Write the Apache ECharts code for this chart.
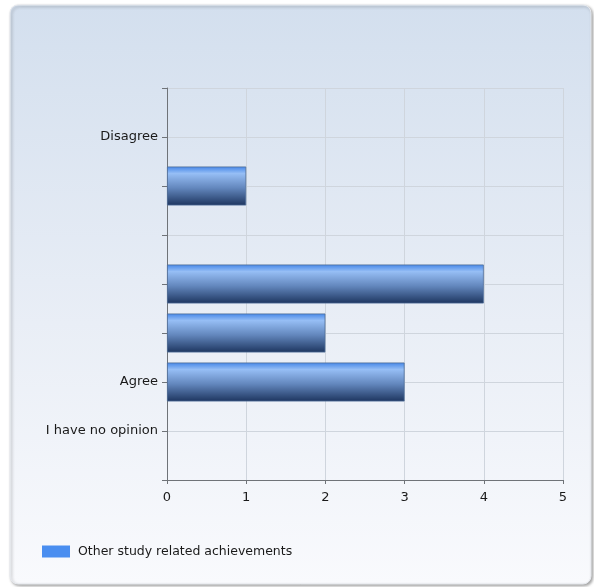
<!DOCTYPE html>
<html>
<head>
<meta charset="utf-8">
<script src="https://cdn.jsdelivr.net/npm/echarts@6/dist/echarts.min.js"></script>
<style>
html,body{margin:0;padding:0;background:#ffffff;}
#main{width:594px;height:587px;}
</style>
</head>
<body>
<div id="main"></div>
<script>
var categories = ['', 'Disagree', '', '', '', '', 'Agree', 'I have no opinion', ''];
var seriesName = 'Other study related achievements';
var values = [null, 0, 1, 0, 4, 2, 3, 0, null];
var xTicks = [0, 1, 2, 3, 4, 5];

var chart = echarts.init(document.getElementById('main'), null, {renderer: 'canvas'});
var font = 'DejaVu Sans';
var option = {
  backgroundColor: '#ffffff',
  animation: false,
  graphic: [{
    type: 'rect',
    z: -10,
    shape: {x: 10, y: 5, width: 581, height: 579, r: 8},
    style: {
      fill: new echarts.graphic.LinearGradient(0, 0, 0, 1, [
        {offset: 0, color: '#d3dfee'},
        {offset: 0.55, color: '#e9eef6'},
        {offset: 1, color: '#f9fafd'}
      ]),
      stroke: '#e6e9ee',
      lineWidth: 1,
      shadowBlur: 3,
      shadowOffsetX: 1.5,
      shadowOffsetY: 1.5,
      shadowColor: 'rgba(0,0,0,0.35)'
    }
  }],
  grid: {left: 167, top: 88, width: 396, height: 392, containLabel: false},
  legend: {
    left: 37, top: 540,
    icon: 'rect', itemWidth: 28, itemHeight: 12, itemGap: 10,
    textStyle: {fontFamily: font, fontSize: 12.5, color: '#1a1a1a', padding: [0, 0, 0, 3]},
    data: [{name: seriesName, itemStyle: {color: '#4a8ef0', borderWidth: 0}}]
  },
  xAxis: {
    type: 'value', min: xTicks[0], max: xTicks[xTicks.length - 1], interval: 1,
    axisLine: {show: true, lineStyle: {color: '#6f7378', width: 1}},
    axisTick: {show: true, length: 4, lineStyle: {color: '#6f7378'}},
    axisLabel: {fontFamily: font, fontSize: 13, color: '#1a1a1a', margin: 11},
    splitLine: {show: true, lineStyle: {color: '#cfd5dd', width: 1}}
  },
  yAxis: {
    type: 'category', data: categories, inverse: true, boundaryGap: false,
    axisLine: {show: true, lineStyle: {color: '#6f7378', width: 1}},
    axisTick: {show: true, length: 5, inside: false, lineStyle: {color: '#6f7378'}},
    axisLabel: {fontFamily: font, fontSize: 13, color: '#1a1a1a', margin: 9, interval: 0},
    splitLine: {show: true, interval: 0, lineStyle: {color: '#cfd5dd', width: 1}}
  },
  series: [{
    name: seriesName, type: 'bar', barWidth: 39,
    data: values.map(function (v) { return (v === null || v === 0) ? '-' : v; }),
    itemStyle: {
      color: new echarts.graphic.LinearGradient(0, 0, 0, 1, [
        {offset: 0, color: '#4486e8'},
        {offset: 0.18, color: '#96bef5'},
        {offset: 0.55, color: '#6387bd'},
        {offset: 1, color: '#1d355f'}
      ]),
      borderColor: '#4f6d98', borderWidth: 0.8
    }
  }]
};
chart.setOption(option);
</script>
</body>
</html>
